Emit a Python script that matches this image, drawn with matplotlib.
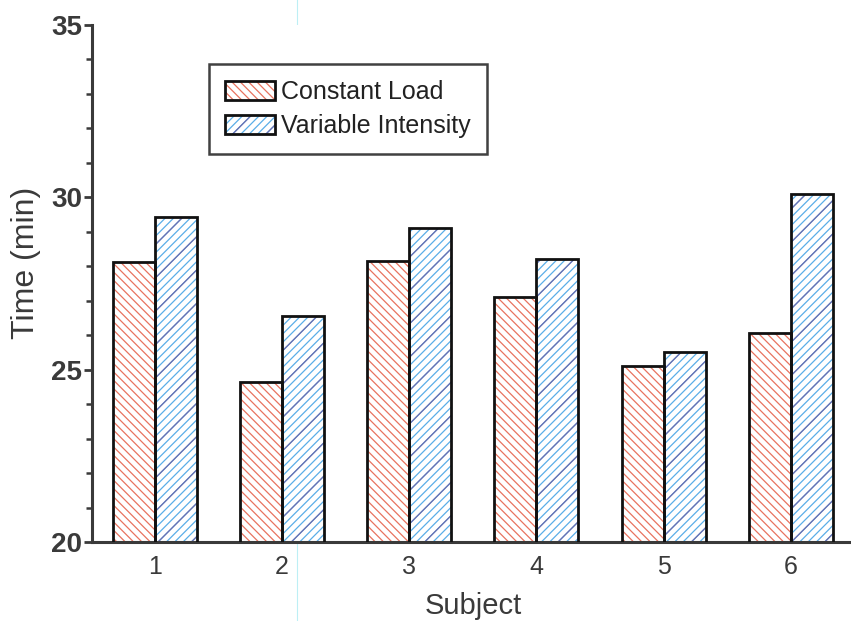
import matplotlib
matplotlib.use("Agg")
import matplotlib.pyplot as plt
import numpy as np
from matplotlib.patches import Patch
from matplotlib.legend_handler import HandlerTuple
from matplotlib.lines import Line2D

subjects = [1, 2, 3, 4, 5, 6]
constant_load = [28.12, 24.65, 28.15, 27.12, 25.1, 26.05]
variable_intensity = [29.42, 26.57, 29.12, 28.22, 25.5, 30.1]
series_names = ["Constant Load", "Variable Intensity"]

red = "#e8735f"
blue = "#5aaee8"
purple = "#6c6fb0"
ink = "#3a3a3a"

plt.rcParams["font.family"] = ["Liberation Sans", "DejaVu Sans"]
plt.rcParams["hatch.linewidth"] = 0.9

fig = plt.figure(figsize=(8.51, 6.21), dpi=100)
ax = fig.add_axes([0.108, 0.1272, 0.896, 0.8325])

x = np.array(subjects, dtype=float)
w = 0.33

# hatch layers first, black outlines on top
ax.bar(x - w / 2, constant_load, w, color="white", edgecolor=red,
       hatch="\\\\\\\\", linewidth=0, zorder=2)
ax.bar(x + w / 2, variable_intensity, w, color="white", edgecolor=blue,
       hatch="////", linewidth=0, zorder=2)
ax.bar(x + w / 2, variable_intensity, w, color="none", edgecolor=purple,
       hatch="/", linewidth=0, zorder=2)
ax.bar(x - w / 2, constant_load, w, fill=False, edgecolor="#111111",
       linewidth=2, zorder=3)
ax.bar(x + w / 2, variable_intensity, w, fill=False, edgecolor="#111111",
       linewidth=2, zorder=3)

ax.set_xlim(0.505, 6.5)
ax.set_ylim(20, 35)
ax.set_xticks(subjects)
ax.set_yticks([20, 25, 30, 35])
ax.set_yticks(np.arange(20, 35, 1), minor=True)

for s in ["top", "right"]:
    ax.spines[s].set_visible(False)
for s in ["left", "bottom"]:
    ax.spines[s].set_color(ink)
    ax.spines[s].set_linewidth(2.2)

ax.tick_params(axis="y", which="major", length=6, width=2, color=ink,
               labelsize=20, labelcolor=ink, pad=1)
ax.tick_params(axis="y", which="minor", length=4, width=1.8, color=ink)
ax.tick_params(axis="x", length=0, labelsize=18, labelcolor=ink, pad=9)
for lab in ax.get_yticklabels():
    lab.set_fontweight("bold")

ax.set_xlabel("Subject", fontsize=21, color=ink, labelpad=10)
ax.set_ylabel("Time (min)", fontsize=23, color=ink)
ax.yaxis.set_label_coords(-0.067, 0.54)

h1 = (Patch(facecolor="white", edgecolor=red, hatch="\\\\\\\\", linewidth=0),
      Patch(fill=False, edgecolor="#111111", linewidth=2))
h2 = (Patch(facecolor="white", edgecolor=blue, hatch="////", linewidth=0),
      Patch(facecolor="none", edgecolor=purple, hatch="/", linewidth=0),
      Patch(fill=False, edgecolor="#111111", linewidth=2))
leg = ax.legend([h1, h2], series_names,
                handler_map={tuple: HandlerTuple(ndivide=1, pad=0)},
                loc="upper left", bbox_to_anchor=(0.153, 0.925),
                fontsize=18, frameon=True, fancybox=False,
                handlelength=2.0, handleheight=0.8, handletextpad=0.25,
                borderpad=0.65, labelspacing=0.4, borderaxespad=0)
leg.get_frame().set_edgecolor("#111111")
leg.get_frame().set_linewidth(1.8)
for t in leg.get_texts():
    t.set_color("#222222")

# faint vertical line crossing the sheet
fig.add_artist(Line2D([297 / 851, 297 / 851], [0, 1], transform=fig.transFigure,
                      color="#bdeff5", linewidth=0.8, zorder=0))

fig.savefig("out.png", dpi=100)
